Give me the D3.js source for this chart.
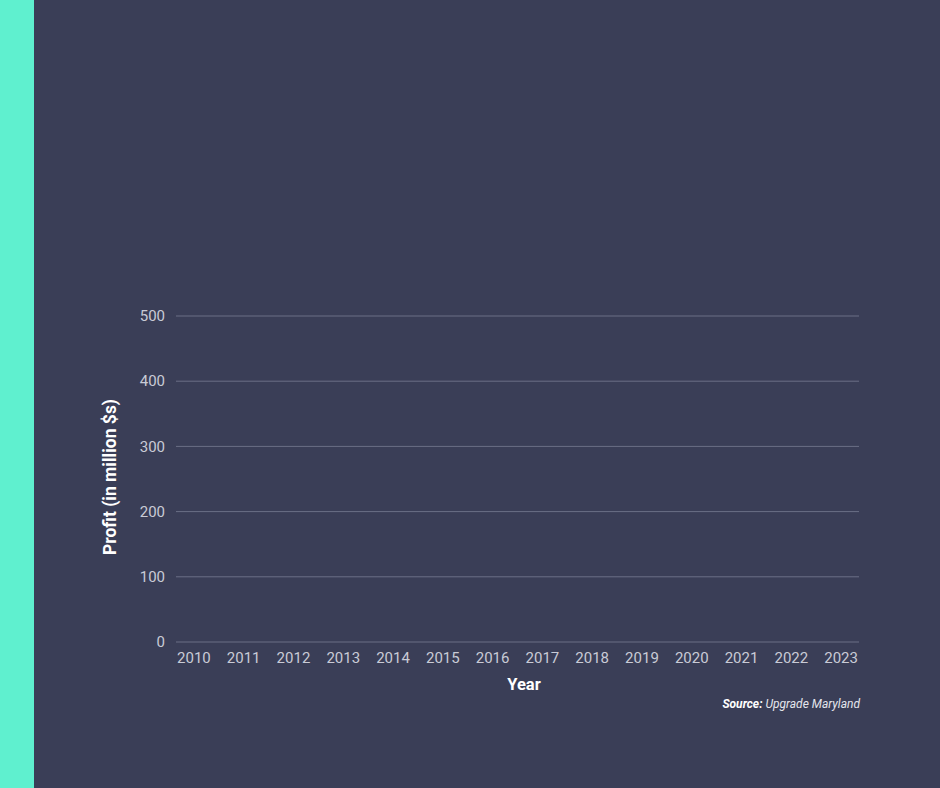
<!DOCTYPE html>
<html>
<head>
	<meta charset="utf-8">
	<title>Profit by year</title>
	<script type="text/javascript" src="https://cdn.jsdelivr.net/npm/d3@7"></script>
	<style>
		html, body { margin: 0; padding: 0; background: #3a3e57; }
		svg { display: block; }
		text { font-family: Roboto, "DejaVu Sans", sans-serif; }
	</style>
</head>
<body>
	<div id="chart"></div>
	<script type="text/javascript">
		// data: no bars drawn yet, so values are unknown
		var years = ["2010", "2011", "2012", "2013", "2014", "2015", "2016",
			"2017", "2018", "2019", "2020", "2021", "2022", "2023"];
		var profit = [null, null, null, null, null, null, null,
			null, null, null, null, null, null, null];
		var yTicks = [0, 100, 200, 300, 400, 500];

		var W = 940, H = 788;
		var svg = d3.select("#chart").append("svg")
			.attr("width", W)
			.attr("height", H);

		svg.append("rect").attr("width", W).attr("height", H).attr("fill", "#3a3e57");
		svg.append("rect").attr("width", 34).attr("height", H).attr("fill", "#5ff0cf");

		var x = d3.scaleBand().domain(years).range([169, 866]);
		var y = d3.scaleLinear().domain([0, 500]).range([642, 316]);

		// gridlines
		svg.append("g")
			.selectAll("line")
			.data(yTicks)
			.enter()
			.append("line")
			.attr("x1", 176)
			.attr("x2", 859)
			.attr("y1", function(d) { return y(d); })
			.attr("y2", function(d) { return y(d); })
			.attr("stroke", "#6b6f86")
			.attr("stroke-width", 1);

		// y tick labels
		svg.append("g")
			.selectAll("text")
			.data(yTicks)
			.enter()
			.append("text")
			.attr("x", 165)
			.attr("y", function(d) { return y(d); })
			.attr("dy", "0.35em")
			.attr("text-anchor", "end")
			.attr("fill", "#c9cbd6")
			.attr("font-size", 15)
			.text(function(d) { return d; });

		// x tick labels
		svg.append("g")
			.selectAll("text")
			.data(years)
			.enter()
			.append("text")
			.attr("x", function(d) { return x(d) + x.bandwidth() / 2; })
			.attr("y", 663)
			.attr("text-anchor", "middle")
			.attr("fill", "#c9cbd6")
			.attr("font-size", 15)
			.text(function(d) { return d; });

		// bars (none have values in the picture)
		svg.append("g")
			.selectAll("rect")
			.data(years.map(function(yr, i) { return { year: yr, value: profit[i] }; })
				.filter(function(d) { return d.value != null; }))
			.enter()
			.append("rect")
			.attr("x", function(d) { return x(d.year) + x.bandwidth() * 0.15; })
			.attr("width", x.bandwidth() * 0.7)
			.attr("y", function(d) { return y(d.value); })
			.attr("height", function(d) { return y(0) - y(d.value); })
			.attr("fill", "#5ff0cf");

		// axis titles
		svg.append("text")
			.attr("transform", "translate(116,477) rotate(-90)")
			.attr("text-anchor", "middle")
			.attr("fill", "#ffffff")
			.attr("font-size", 17.5)
			.attr("font-weight", "bold")
			.text("Profit (in million $s)");

		svg.append("text")
			.attr("x", 524)
			.attr("y", 690)
			.attr("text-anchor", "middle")
			.attr("fill", "#ffffff")
			.attr("font-size", 16.5)
			.attr("font-weight", "bold")
			.text("Year");

		var src = svg.append("text")
			.attr("x", 860)
			.attr("y", 708)
			.attr("text-anchor", "end")
			.attr("fill", "#ffffff")
			.attr("font-size", 12)
			.attr("font-style", "italic");
		src.append("tspan").attr("font-weight", "bold").text("Source: ");
		src.append("tspan").attr("fill", "#e4e5ec").text("Upgrade Maryland");
	</script>
</body>
</html>
